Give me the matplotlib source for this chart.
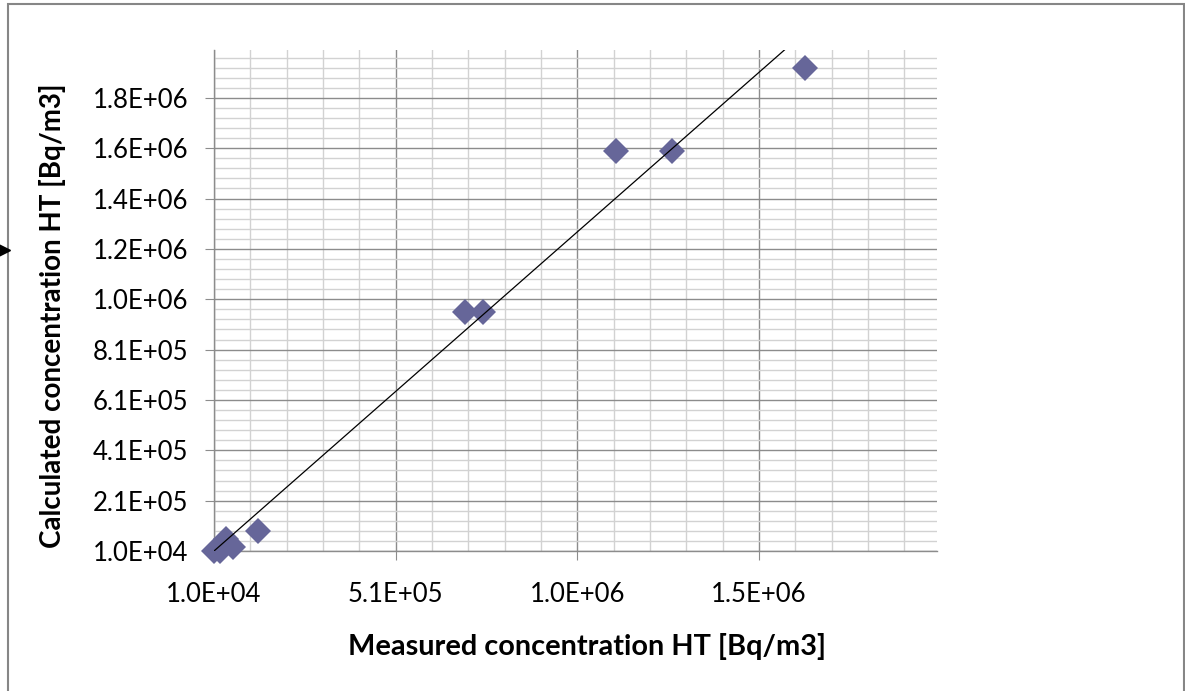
import numpy as np
import matplotlib
matplotlib.use('Agg')
import matplotlib.pyplot as plt
from matplotlib.ticker import MultipleLocator, FuncFormatter
from matplotlib.patches import Rectangle
from matplotlib.lines import Line2D

# measured vs calculated HT concentration [Bq/m3]
measured = [1.0e4, 2.6e4, 4.3e4, 6.2e4, 1.31e5, 7.0e5, 7.5e5, 1.116e6, 1.27e6, 1.637e6]
calculated = [1.0e4, 1.0e4, 5.8e4, 2.6e4, 8.9e4, 9.6e5, 9.6e5, 1.6e6, 1.6e6, 1.927e6]

# linear trendline
trend_slope = 1.2675
trend_intercept = -2.7e3

x_label = 'Measured concentration HT [Bq/m3]'
y_label = 'Calculated concentration HT [Bq/m3]'

plt.rcParams['font.family'] = ['Lato', 'DejaVu Sans']

fig = plt.figure(figsize=(11.85, 6.91), dpi=100)
ax = fig.add_axes([214 / 1185, 140 / 691, 723 / 1185, 501 / 691])

ax.set_xlim(1e4, 2.0e6)
ax.set_ylim(1e4, 2.0e6)
ax.xaxis.set_major_locator(MultipleLocator(5e5, offset=1e4))
ax.xaxis.set_minor_locator(MultipleLocator(1e5, offset=1e4))
ax.yaxis.set_major_locator(MultipleLocator(2e5, offset=1e4))
ax.yaxis.set_minor_locator(MultipleLocator(4e4, offset=1e4))
fmt = FuncFormatter(lambda v, p: f'{v:.1E}')
ax.xaxis.set_major_formatter(fmt)
ax.yaxis.set_major_formatter(fmt)

ax.grid(which='major', color='#8c8c8c', lw=1.0)
ax.grid(which='minor', color='#d2d2d2', lw=1.0)
ax.set_axisbelow(True)

for s in ['top', 'right']:
    ax.spines[s].set_visible(False)
for s in ['left', 'bottom']:
    ax.spines[s].set_color('#8c8c8c')
    ax.spines[s].set_linewidth(1.0)

ax.tick_params(which='major', direction='out', length=6.5, color='#8c8c8c',
               labelsize=18.5)
ax.tick_params(axis='x', which='major', pad=16)
ax.tick_params(axis='y', which='major', pad=12)
ax.tick_params(which='minor', length=0)

ax.plot(measured, calculated, ls='none', marker='D', ms=13, color='#666699',
        mew=0, clip_on=False, zorder=3)

tx = np.array([min(measured), max(measured)])
ax.plot(tx, trend_slope * tx + trend_intercept, color='black', lw=0.9, zorder=4)

ax.set_xlabel(x_label, fontsize=20.8, fontweight='bold')
ax.set_ylabel(y_label, fontsize=20, fontweight='bold')
ax.xaxis.set_label_coords(0.516, -0.164)
ax.yaxis.set_label_coords(-0.205, 0.47)

# outer chart border and the small arrow on the left edge
fig.add_artist(Rectangle((8 / 1185, -0.05), (1184 - 8) / 1185, 1.05 - 4 / 691,
                         transform=fig.transFigure, fill=False,
                         edgecolor='#868686', lw=1.5))
fig.add_artist(Line2D([4 / 1185], [1 - 250 / 691], marker='>', ms=9,
                      color='black', transform=fig.transFigure))

fig.savefig('out.png', dpi=100)
